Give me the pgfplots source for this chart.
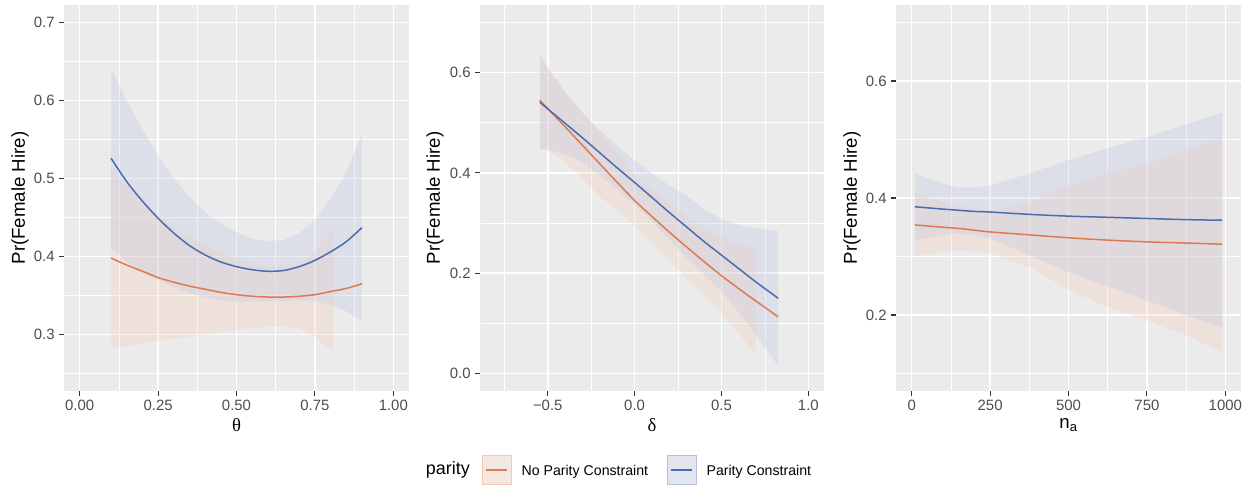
\documentclass[border=0pt]{standalone}
\usepackage{fontspec}
\setmainfont{Liberation Sans}
\newfontfamily\greekfont{Liberation Serif}
\usepackage{pgfplots}
\usepackage{pgfplotstable}
\pgfplotsset{compat=1.18}

\definecolor{ggbg}{HTML}{EBEBEB}
\definecolor{gg95}{HTML}{F2F2F2}
\definecolor{ggtick}{HTML}{333333}
\definecolor{ggtext}{HTML}{4D4D4D}
\definecolor{oline}{HTML}{DE7A50}
\definecolor{bline}{HTML}{4A6CB2}
\definecolor{ofill}{HTML}{F7C7AF}
\definecolor{bfill}{HTML}{B3BFE3}

% ---- theta panel ----
\pgfplotstableread{
x y
0.10 0.398
0.15 0.389
0.20 0.381
0.25 0.373
0.30 0.367
0.35 0.362
0.40 0.358
0.45 0.354
0.50 0.351
0.55 0.349
0.60 0.348
0.65 0.348
0.70 0.349
0.75 0.351
0.80 0.355
0.85 0.359
0.90 0.365
}\thNoLine
% band outline: upper edge left to right, then lower edge right to left
\pgfplotstableread{
x y
0.10 0.514
0.15 0.491
0.20 0.472
0.25 0.453
0.30 0.437
0.35 0.425
0.40 0.414
0.45 0.405
0.50 0.397
0.55 0.391
0.60 0.386
0.65 0.386
0.70 0.390
0.75 0.406
0.81 0.437
0.81 0.277
0.75 0.297
0.70 0.308
0.65 0.310
0.60 0.310
0.55 0.308
0.50 0.306
0.45 0.303
0.40 0.300
0.35 0.297
0.30 0.295
0.25 0.291
0.20 0.288
0.15 0.285
0.10 0.282
}\thNoBand
\pgfplotstableread{
x y
0.10 0.526
0.15 0.496
0.20 0.471
0.25 0.449
0.30 0.430
0.35 0.414
0.40 0.402
0.45 0.393
0.50 0.387
0.55 0.383
0.60 0.381
0.65 0.382
0.70 0.387
0.75 0.395
0.80 0.406
0.85 0.419
0.90 0.437
}\thParLine
\pgfplotstableread{
x y
0.10 0.641
0.15 0.600
0.20 0.563
0.25 0.529
0.30 0.500
0.35 0.476
0.40 0.457
0.45 0.442
0.50 0.431
0.55 0.423
0.60 0.420
0.65 0.421
0.70 0.430
0.75 0.447
0.80 0.474
0.85 0.508
0.90 0.557
0.90 0.317
0.85 0.330
0.80 0.338
0.75 0.343
0.70 0.344
0.65 0.343
0.60 0.342
0.55 0.342
0.50 0.342
0.45 0.344
0.40 0.348
0.35 0.353
0.30 0.361
0.25 0.370
0.20 0.380
0.15 0.393
0.10 0.411
}\thParBand

% ---- delta panel ----
\pgfplotstableread{
x y
-0.546 0.545
-0.4 0.492
-0.3 0.455
-0.2 0.418
-0.1 0.381
0.0 0.345
0.1 0.313
0.2 0.282
0.3 0.252
0.4 0.223
0.5 0.195
0.6 0.169
0.7 0.144
0.826 0.113
}\deNoLine
\pgfplotstableread{
x y
-0.546 0.637
-0.5 0.612
-0.4 0.562
-0.3 0.521
-0.2 0.483
-0.1 0.437
0.0 0.396
0.1 0.366
0.2 0.340
0.3 0.314
0.4 0.291
0.5 0.271
0.6 0.258
0.7 0.252
0.7 0.036
0.6 0.080
0.5 0.119
0.4 0.155
0.3 0.190
0.2 0.224
0.1 0.260
0.0 0.294
-0.1 0.325
-0.2 0.353
-0.3 0.389
-0.4 0.422
-0.5 0.444
-0.546 0.448
}\deNoBand
\pgfplotstableread{
x y
-0.546 0.541
-0.4 0.499
-0.3 0.470
-0.2 0.440
-0.1 0.410
0.0 0.381
0.1 0.351
0.2 0.321
0.3 0.292
0.4 0.263
0.5 0.236
0.6 0.209
0.7 0.182
0.826 0.150
}\deParLine
\pgfplotstableread{
x y
-0.546 0.634
-0.5 0.609
-0.4 0.560
-0.3 0.519
-0.2 0.485
-0.1 0.454
0.0 0.425
0.1 0.399
0.2 0.375
0.3 0.354
0.4 0.328
0.5 0.308
0.6 0.296
0.7 0.289
0.826 0.285
0.826 0.015
0.7 0.075
0.6 0.122
0.5 0.164
0.4 0.198
0.3 0.230
0.2 0.267
0.1 0.303
0.0 0.337
-0.1 0.366
-0.2 0.395
-0.3 0.421
-0.4 0.438
-0.5 0.447
-0.546 0.448
}\deParBand

% ---- n_a panel ----
\pgfplotstableread{
x y
10 0.354
100 0.350
150 0.348
200 0.345
250 0.342
375 0.337
500 0.332
625 0.328
750 0.325
875 0.323
990 0.321
}\naNoLine
\pgfplotstableread{
x y
10 0.408
100 0.392
150 0.386
200 0.383
250 0.378
375 0.392
500 0.421
625 0.442
750 0.459
875 0.481
990 0.505
990 0.137
875 0.165
750 0.191
625 0.214
500 0.243
375 0.282
250 0.306
200 0.309
150 0.310
100 0.308
10 0.300
}\naNoBand
\pgfplotstableread{
x y
10 0.385
100 0.381
150 0.379
200 0.377
250 0.376
375 0.372
500 0.369
625 0.367
750 0.365
875 0.363
990 0.362
}\naParLine
\pgfplotstableread{
x y
10 0.442
100 0.425
150 0.418
200 0.418
250 0.421
375 0.442
500 0.465
625 0.485
750 0.505
875 0.526
990 0.546
990 0.178
875 0.200
750 0.225
625 0.249
500 0.273
375 0.302
250 0.331
200 0.336
150 0.340
100 0.337
10 0.328
}\naParBand

\pgfplotsset{
  ggpanel/.style={
    scale only axis, height=386bp,
    axis background/.style={fill=ggbg},
    axis line style={draw=none},
    grid=both,
    major grid style={white, line width=1.5bp},
    minor grid style={white, line width=0.75bp},
    tick align=outside, xtick pos=left, ytick pos=left,
    major tick length=4.7bp, minor tick length=0.01bp,
    major tick style={color=ggtick, line width=1.1bp},
    tick label style={font=\fontsize{15}{15}\selectfont, text=ggtext, inner sep=0pt},
    yticklabel style={xshift=-4.5bp},
    xticklabel style={yshift=-4.5bp},
    ylabel={Pr(Female Hire)},
    every axis y label/.style={at={(axis description cs:-0.1275,0.5)}, rotate=90,
      anchor=center, font=\fontsize{18.7}{20}\selectfont},
    every axis x label/.style={at={(axis description cs:0.5,-0.088)}, anchor=center,
      font=\fontsize{18.7}{20}\selectfont},
  },
  oband/.style={fill=ofill, fill opacity=0.25, draw=none},
  bband/.style={fill=bfill, fill opacity=0.25, draw=none},
  oln/.style={color=oline, line width=1.5bp, smooth},
  bln/.style={color=bline, line width=1.5bp, smooth},
}

\begin{document}
\begin{tikzpicture}
\path[use as bounding box] (0,0) rectangle (1256bp,486bp);

% theta
\begin{axis}[ggpanel, at={(64bp,95bp)}, anchor=south west, width=345bp,
  xmin=-0.05, xmax=1.05, ymin=0.2275, ymax=0.7225,
  xtick={0,0.25,0.5,0.75,1}, xticklabels={0.00,0.25,0.50,0.75,1.00},
  ytick={0.3,0.4,0.5,0.6,0.7}, yticklabels={0.3,0.4,0.5,0.6,0.7},
  minor xtick={0.125,0.375,0.625,0.875},
  minor ytick={0.25,0.35,0.45,0.55,0.65},
  xlabel={{\greekfont θ}}]
\addplot[oband] table[x=x,y=y]{\thNoBand};
\addplot[bband] table[x=x,y=y]{\thParBand};
\addplot[oln] table[x=x,y=y]{\thNoLine};
\addplot[bln] table[x=x,y=y]{\thParLine};
\end{axis}

% delta
\begin{axis}[ggpanel, at={(480bp,95bp)}, anchor=south west, width=344bp,
  xmin=-0.89, xmax=1.09, ymin=-0.035, ymax=0.735,
  xtick={-0.5,0,0.5,1}, xticklabels={−0.5,0.0,0.5,1.0},
  ytick={0,0.2,0.4,0.6}, yticklabels={0.0,0.2,0.4,0.6},
  minor xtick={-0.75,-0.25,0.25,0.75},
  minor ytick={0.1,0.3,0.5,0.7},
  xlabel={{\greekfont δ}},
  every axis y label/.style={at={(axis description cs:-0.131,0.5)}, rotate=90,
    anchor=center, font=\fontsize{18.7}{20}\selectfont},
  legend columns=2,
  legend style={at={(0.0058,-0.2047)}, anchor=west, draw=none, fill=none,
    inner sep=0pt, font=\fontsize{14.2}{15}\selectfont,
    nodes={inner sep=0pt},
    column sep=10bp, /tikz/every even column/.append style={column sep=19bp}}]
\addlegendimage{legend image code/.code={
  \fill[gg95] (0bp,-13.5bp) rectangle (29bp,15.5bp);
  \fill[ofill, fill opacity=0.25] (0bp,-13.5bp) rectangle (29bp,15.5bp);
  \draw[oline, line width=1.5bp] (4bp,1bp) -- (25bp,1bp);}}
\addlegendentry{No Parity Constraint}
\addlegendimage{legend image code/.code={
  \fill[gg95] (0bp,-13.5bp) rectangle (29bp,15.5bp);
  \fill[bfill, fill opacity=0.25] (0bp,-13.5bp) rectangle (29bp,15.5bp);
  \draw[bline, line width=1.5bp] (4bp,1bp) -- (25bp,1bp);}}
\addlegendentry{Parity Constraint}
\addplot[oband] table[x=x,y=y]{\deNoBand};
\addplot[bband] table[x=x,y=y]{\deParBand};
\addplot[oln] table[x=x,y=y]{\deNoLine};
\addplot[bln] table[x=x,y=y]{\deParLine};
\end{axis}

% n_a
\begin{axis}[ggpanel, at={(896bp,95bp)}, anchor=south west, width=345bp,
  xmin=-50, xmax=1050, ymin=0.07, ymax=0.73,
  xtick={0,250,500,750,1000}, xticklabels={0,250,500,750,1000},
  ytick={0.2,0.4,0.6}, yticklabels={0.2,0.4,0.6},
  minor xtick={125,375,625,875},
  minor ytick={0.1,0.3,0.5,0.7},
  xlabel={n\textsubscript{a}}]
\addplot[oband] table[x=x,y=y]{\naNoBand};
\addplot[bband] table[x=x,y=y]{\naParBand};
\addplot[oln] table[x=x,y=y]{\naNoLine};
\addplot[bln] table[x=x,y=y]{\naParLine};
\end{axis}

\node[anchor=east, font=\fontsize{18}{20}\selectfont, inner sep=0pt] at (470bp,16bp) {parity};
\end{tikzpicture}
\end{document}
